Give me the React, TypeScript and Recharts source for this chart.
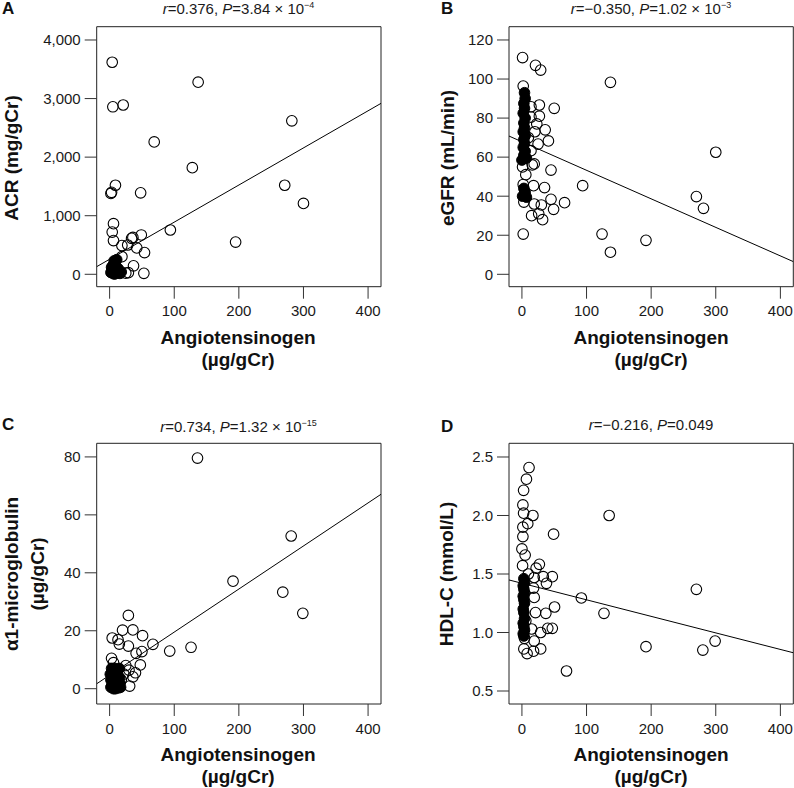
import React from 'react'
import { ScatterChart, Scatter, XAxis, YAxis, ReferenceLine, ReferenceArea } from 'recharts'

const FONT = '"Liberation Sans", Arial, Helvetica, sans-serif'

// shared x axis (angiotensinogen, µg/gCr)
const xTicks = [0, 100, 200, 300, 400]
const xDomain = [-20, 420]

// A: ACR
const acrOpen = [
  [4, 3620], [137, 3280], [5, 2860], [21, 2890], [282, 2620], [69, 2260], [128, 1820],
  [9, 1520], [3, 1400], [2, 1380], [48, 1390], [271, 1520], [300, 1210], [94, 756],
  [195, 550], [6, 864], [4, 720], [6, 575], [36, 630], [49, 671], [19, 490], [28, 500],
  [34, 614], [42, 450], [54, 370], [19, 300], [37, 145], [53, 17], [29, 27], [25, 20],
]
const acrFilled = [
  [2, 30], [4, 80], [5, 150], [7, 230], [8, 200], [10, 120], [12, 60], [14, 30],
  [16, 15], [6, 10], [9, 40], [11, 250], [3, 120], [13, 100], [18, 40], [8, 5],
]
const acrFit = [[-20, 130], [420, 2918]]
const acrTicks = [0, 1000, 2000, 3000, 4000]

// B: eGFR
const egfrOpen = [
  [1, 111], [21, 107], [29, 104.6], [137, 98.3], [2, 96.4], [50, 85], [27, 86.7],
  [14, 85.8], [27, 81], [14, 80.5], [23, 77], [36, 74], [20, 73], [41, 68.3], [25, 66.7],
  [14, 63.3], [300, 62.5], [19, 56.5], [45, 53.4], [6, 51], [94, 45.4], [18, 45.4],
  [35, 44.4], [45, 38.4], [66, 36.7], [49, 33.3], [19, 36], [30, 35.5], [15, 30],
  [26, 31], [32, 28], [270, 39.8], [281, 33.8], [2, 20.6], [124, 20.6], [192, 17.4],
  [137, 11.3], [3, 37], [2, 46], [1, 55], [10, 70], [16, 56],
]
const egfrFilled = [
  [4, 93], [5, 90], [3, 87.5], [4, 85], [2, 82.5], [5, 80], [3, 77.5], [4, 75], [2, 73],
  [5, 71], [3, 69], [4, 67], [2, 65], [5, 63], [3, 61], [0, 58.5], [7, 59.5], [3, 44],
  [5, 42], [1, 40], [7, 39.5], [4, 41],
]
const egfrFit = [[-20, 70.8], [420, 6.5]]
const egfrTicks = [0, 20, 40, 60, 80, 100, 120]

// C: alpha1-microglobulin
const a1mOpen = [
  [136, 79.6], [281, 52.7], [191, 37.1], [268, 33.3], [299, 26], [29, 25.3], [20, 20.2],
  [36, 20.3], [4, 17.5], [13, 16.9], [15, 15.4], [51, 18.3], [29, 14.7], [67, 15.3],
  [93, 13], [126, 14.3], [41, 12.2], [50, 12.8], [47.5, 8.2], [3, 10.5], [6, 9],
  [40, 5.5], [36, 4.1], [31, 0.9], [30, 6.4], [22, 5], [18, 3], [25, 8],
]
const a1mFilled = [
  [1, 5], [2, 3], [3, 1], [4, 6], [5, 0.5], [6, 4], [7, 2], [8, 7], [9, 0], [10, 5],
  [11, 3], [12, 1], [13, 6.5], [14, 0.3], [15, 4], [16, 2], [3, 7], [6, 0], [9, 6],
  [12, 3.5], [2, 0.5], [15, 7], [17, 0.5], [5, 2.5], [10, 1.5], [8, 4.5],
]
const a1mFit = [[-20, 1.7], [420, 67.1]]
const a1mTicks = [0, 20, 40, 60, 80]

// D: HDL-C
const hdlOpen = [
  [11, 2.41], [7, 2.31], [2.6, 2.215], [1.5, 2.09], [2.6, 2.02], [17, 2.0], [135, 2.0],
  [49, 1.84], [1.5, 1.9], [9, 1.93], [1.5, 1.82], [0, 1.714], [5, 1.662], [1, 1.571],
  [27, 1.583], [22, 1.55], [47, 1.477], [33, 1.477], [38, 1.42], [19, 1.47], [270, 1.369],
  [18, 1.38], [92, 1.295], [19, 1.3], [50.5, 1.218], [127, 1.164], [37, 1.164], [21, 1.17],
  [15, 1.03], [40, 1.036], [47, 1.036], [29, 1.0], [299, 0.927], [19, 0.927], [192, 0.879],
  [280, 0.85], [29, 0.86], [3, 0.86], [18, 0.84], [8, 0.82], [69, 0.671], [10, 1.5],
  [4, 0.95], [6, 1.1],
]
const hdlFilled = [
  [3, 1.46], [4, 1.43], [2, 1.4], [3, 1.37], [4, 1.34], [2, 1.31], [3, 1.28], [4, 1.25],
  [2, 1.2], [3, 1.17], [4, 1.12], [2, 1.08], [3, 1.05], [4, 1.02], [2, 0.99], [3, 0.97],
]
const hdlFit = [[-20, 1.449], [420, 0.827]]
const hdlTicks = [0.5, 1.0, 1.5, 2.0, 2.5]

const toPts = (a: number[][]) => a.map(([x, y]) => ({ x, y }))

const openDot = (p: any) => (
  <circle cx={p.cx} cy={p.cy} r={5.3} fill="none" stroke="#000" strokeWidth={1.1} />
)
const filledDot = (p: any) => (
  <circle cx={p.cx} cy={p.cy} r={5.3} fill="#000" stroke="#000" strokeWidth={1} />
)

interface PanelProps {
  left: number
  top: number
  plotLeft: number
  plotTop: number
  plotW: number
  plotH: number
  yDomain: number[]
  yTicks: number[]
  yFmt: (v: number) => string
  open: number[][]
  filled: number[][]
  fit: number[][]
}

function Panel(p: PanelProps) {
  const w = 394
  const h = 392
  const tickStyle = { fontSize: 15, fill: '#1a1a1a', fontFamily: FONT }
  return (
    <div style={{ position: 'absolute', left: p.left, top: p.top }}>
      <ScatterChart
        width={w}
        height={h}
        margin={{ top: p.plotTop, right: w - p.plotLeft - p.plotW, bottom: 0, left: 0 }}
      >
        <XAxis
          type="number"
          dataKey="x"
          domain={xDomain}
          ticks={xTicks}
          allowDataOverflow
          axisLine={false}
          tickLine={{ stroke: '#333' }}
          tickSize={12}
          tickMargin={7}
          height={h - p.plotTop - p.plotH}
          tick={tickStyle}
        />
        <YAxis
          type="number"
          dataKey="y"
          domain={p.yDomain}
          ticks={p.yTicks}
          allowDataOverflow
          axisLine={false}
          tickLine={{ stroke: '#333' }}
          tickSize={12}
          tickMargin={4}
          width={p.plotLeft}
          tick={tickStyle}
          tickFormatter={p.yFmt}
        />
        <ReferenceArea
          x1={xDomain[0]}
          x2={xDomain[1]}
          y1={p.yDomain[0]}
          y2={p.yDomain[1]}
          fill="none"
          stroke="#222"
          strokeWidth={1}
          ifOverflow="visible"
        />
        <ReferenceLine
          segment={toPts(p.fit)}
          stroke="#000"
          strokeWidth={1}
          ifOverflow="hidden"
        />
        <Scatter data={toPts(p.open)} shape={openDot} isAnimationActive={false} />
        <Scatter data={toPts(p.filled)} shape={filledDot} isAnimationActive={false} />
      </ScatterChart>
    </div>
  )
}

function Title({ cx, cy, r, pv, exp }: { cx: number; cy: number; r: string; pv: string; exp?: string }) {
  return (
    <div
      style={{
        position: 'absolute', left: cx, top: cy, transform: 'translate(-50%, -50%)',
        fontSize: 15, whiteSpace: 'nowrap', color: '#1a1a1a', lineHeight: '18px',
      }}
    >
      <i>r</i>={r}, <i>P</i>={pv}
      {exp && (
        <>
          {' \u00d7 10'}
          <sup style={{ fontSize: 9, verticalAlign: 'top', lineHeight: '10px' }}>{exp}</sup>
        </>
      )}
    </div>
  )
}

function Letter({ x, y, t }: { x: number; y: number; t: string }) {
  return (
    <div style={{ position: 'absolute', left: x, top: y, fontSize: 17, fontWeight: 'bold', lineHeight: '17px' }}>
      {t}
    </div>
  )
}

function XLabel({ cx, cy }: { cx: number; cy: number }) {
  return (
    <div
      style={{
        position: 'absolute', left: cx, top: cy, transform: 'translate(-50%, -50%)',
        fontSize: 19, fontWeight: 'bold', lineHeight: '22px', textAlign: 'center', whiteSpace: 'nowrap',
      }}
    >
      Angiotensinogen
      <br />
      (µg/gCr)
    </div>
  )
}

function YLabel({ cx, cy, lines }: { cx: number; cy: number; lines: string[] }) {
  return (
    <div
      style={{
        position: 'absolute', left: cx, top: cy, transform: 'translate(-50%, -50%) rotate(-90deg)',
        fontSize: 19, fontWeight: 'bold', lineHeight: '26px', textAlign: 'center', whiteSpace: 'nowrap',
      }}
    >
      {lines.map((l, i) => (
        <div key={i}>{l}</div>
      ))}
    </div>
  )
}

const fmtThousands = (v: number) => v.toLocaleString('en-US')
const fmtInt = (v: number) => String(v)
const fmtOne = (v: number) => v.toFixed(1)

export default function App() {
  return (
    <div
      style={{
        position: 'absolute', left: 0, top: 0, width: 794, height: 788,
        background: '#fff', fontFamily: FONT, color: '#111', overflow: 'hidden',
      }}
    >
      <Panel
        left={0} top={0} plotLeft={96.7} plotTop={26.7} plotW={284.3} plotH={260}
        yDomain={[-212, 4227]} yTicks={acrTicks} yFmt={fmtThousands}
        open={acrOpen} filled={acrFilled} fit={acrFit}
      />
      <Panel
        left={400} top={0} plotLeft={109} plotTop={26.7} plotW={284.3} plotH={260}
        yDomain={[-6.35, 126.8]} yTicks={egfrTicks} yFmt={fmtInt}
        open={egfrOpen} filled={egfrFilled} fit={egfrFit}
      />
      <Panel
        left={0} top={395} plotLeft={96.7} plotTop={48.3} plotW={284.3} plotH={260.7}
        yDomain={[-5.28, 84.7]} yTicks={a1mTicks} yFmt={fmtInt}
        open={a1mOpen} filled={a1mFilled} fit={a1mFit}
      />
      <Panel
        left={400} top={395} plotLeft={109} plotTop={48.3} plotW={284.3} plotH={260.7}
        yDomain={[0.389, 2.617]} yTicks={hdlTicks} yFmt={fmtOne}
        open={hdlOpen} filled={hdlFilled} fit={hdlFit}
      />

      <Letter x={2} y={0} t="A" />
      <Letter x={441} y={0} t="B" />
      <Letter x={2} y={416} t="C" />
      <Letter x={441} y={418} t="D" />

      <Title cx={238.5} cy={9} r="0.376" pv="3.84" exp="−4" />
      <Title cx={651} cy={9} r="−0.350" pv="1.02" exp="−3" />
      <Title cx={238.5} cy={427} r="0.734" pv="1.32" exp="−15" />
      <Title cx={651} cy={425} r="−0.216" pv="0.049" />

      <YLabel cx={12} cy={158} lines={['ACR (mg/gCr)']} />
      <YLabel cx={448} cy={158} lines={['eGFR (mL/min)']} />
      <YLabel cx={24.5} cy={573.5} lines={['α1-microglobulin', '(µg/gCr)']} />
      <YLabel cx={447} cy={573.5} lines={['HDL-C (mmol/L)']} />

      <XLabel cx={238} cy={349} />
      <XLabel cx={651} cy={349} />
      <XLabel cx={238} cy={766} />
      <XLabel cx={651} cy={766} />
    </div>
  )
}
